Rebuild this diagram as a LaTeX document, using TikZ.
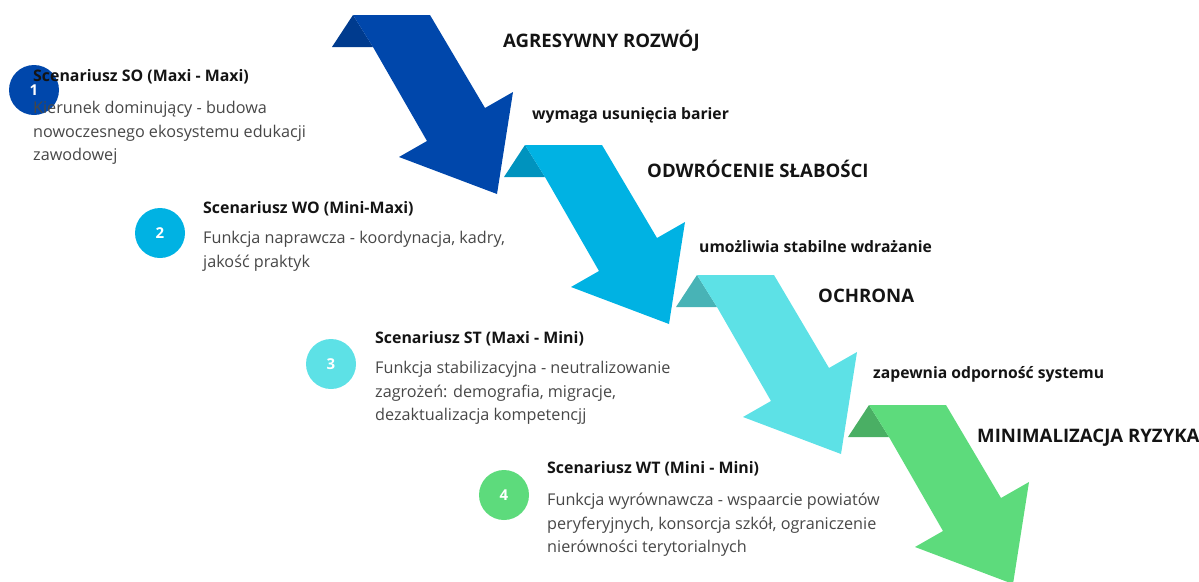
\documentclass[tikz,border=0pt]{standalone}
\usepackage{fontspec}
\setmainfont{Open Sans}
\usepackage{tikz}
\usetikzlibrary{positioning}
\definecolor{so}{HTML}{0047AB}
\definecolor{sofold}{HTML}{003B8E}
\definecolor{wo}{HTML}{00B2E3}
\definecolor{wofold}{HTML}{0093BE}
\definecolor{st}{HTML}{5DE1E6}
\definecolor{stfold}{HTML}{48B3B6}
\definecolor{wt}{HTML}{5DDB7C}
\definecolor{wtfold}{HTML}{4AAF64}
\tikzstyle{badge} = [circle, minimum size=50pt, inner sep=0pt, text=white, font=\bfseries\fontsize{15}{15}\selectfont]
\tikzstyle{title} = [anchor=base west, inner sep=0pt, text=black!92, font=\bfseries\fontsize{15.9}{18}\selectfont]
\tikzstyle{desc} = [anchor=north west, inner sep=0pt, align=left, text=black!72, font=\fontsize{16.2}{23.5}\selectfont]
\tikzstyle{stage} = [anchor=base west, inner sep=0pt, text=black!92, font=\bfseries\fontsize{18.6}{20}\selectfont]
\tikzstyle{hint} = [anchor=base west, inner sep=0pt, text=black!92, font=\bfseries\fontsize{15.7}{18}\selectfont]

\begin{document}
\begin{tikzpicture}[x=1pt, y=-1pt]
  \useasboundingbox (0,0) rectangle (1199,581);
  %% arrows
  \foreach \x/\y/\col in {353/15/so, 525/145/wo, 697/275/st, 869/405/wt} {
    \begin{scope}[shift={(\x,\y)}]
      \fill [\col fold] (-21,32) -- (0,0) -- (20,32) -- cycle;
      \fill [\col] (0,0) -- (77,0) -- (132,93) -- (160,77) -- (144,179) -- (46,142) -- (74,126) -- (20,32) -- cycle;
    \end{scope}
  }
  %% stages
  \node [stage] (aggressive) at (503,47) {AGRESYWNY ROZWÓJ};
  \node [hint] (barriers) at (532,119) {wymaga usunięcia barier};
  \node [stage] (reverse) at (647,177) {ODWRÓCENIE SŁABOŚCI};
  \node [hint] (stable) at (699,252) {umożliwia stabilne wdrażanie};
  \node [stage] (protect) at (818,302) {OCHRONA};
  \node [hint] (resilience) at (873,378) {zapewnia odporność systemu};
  \node [stage] (minimize) at (977,442) {MINIMALIZACJA RYZYKA};
  %% scenarios
  % SO
  \node [badge, fill=so] (badge1) at (34,90) {1};
  \node [title] (title1) at (33,81) {Scenariusz SO (Maxi - Maxi)};
  \node [desc] (desc1) at (33,101) {Kierunek dominujący - budowa\\nowoczesnego ekosystemu edukacji\\zawodowej};
  % WO
  \node [badge, fill=wo] (badge2) at (160,233) {2};
  \node [title] (title2) at (203,213) {Scenariusz WO (Mini-Maxi)};
  \node [desc] (desc2) at (203,231) {Funkcja naprawcza - koordynacja, kadry,\\jakość praktyk};
  % ST
  \node [badge, fill=st] (badge3) at (331,364) {3};
  \node [title] (title3) at (375,343) {Scenariusz ST (Maxi - Mini)};
  \node [desc] (desc3) at (375,361) {Funkcja stabilizacyjna - neutralizowanie\\zagrożeń: demografia, migracje,\\dezaktualizacja kompetencjj};
  % WT
  \node [badge, fill=wt] (badge4) at (504,495) {4};
  \node [title] (title4) at (547,473) {Scenariusz WT (Mini - Mini)};
  \node [desc] (desc4) at (547,493) {Funkcja wyrównawcza - wspaarcie powiatów\\peryferyjnych, konsorcja szkół, ograniczenie\\nierówności terytorialnych};
\end{tikzpicture}
\end{document}
